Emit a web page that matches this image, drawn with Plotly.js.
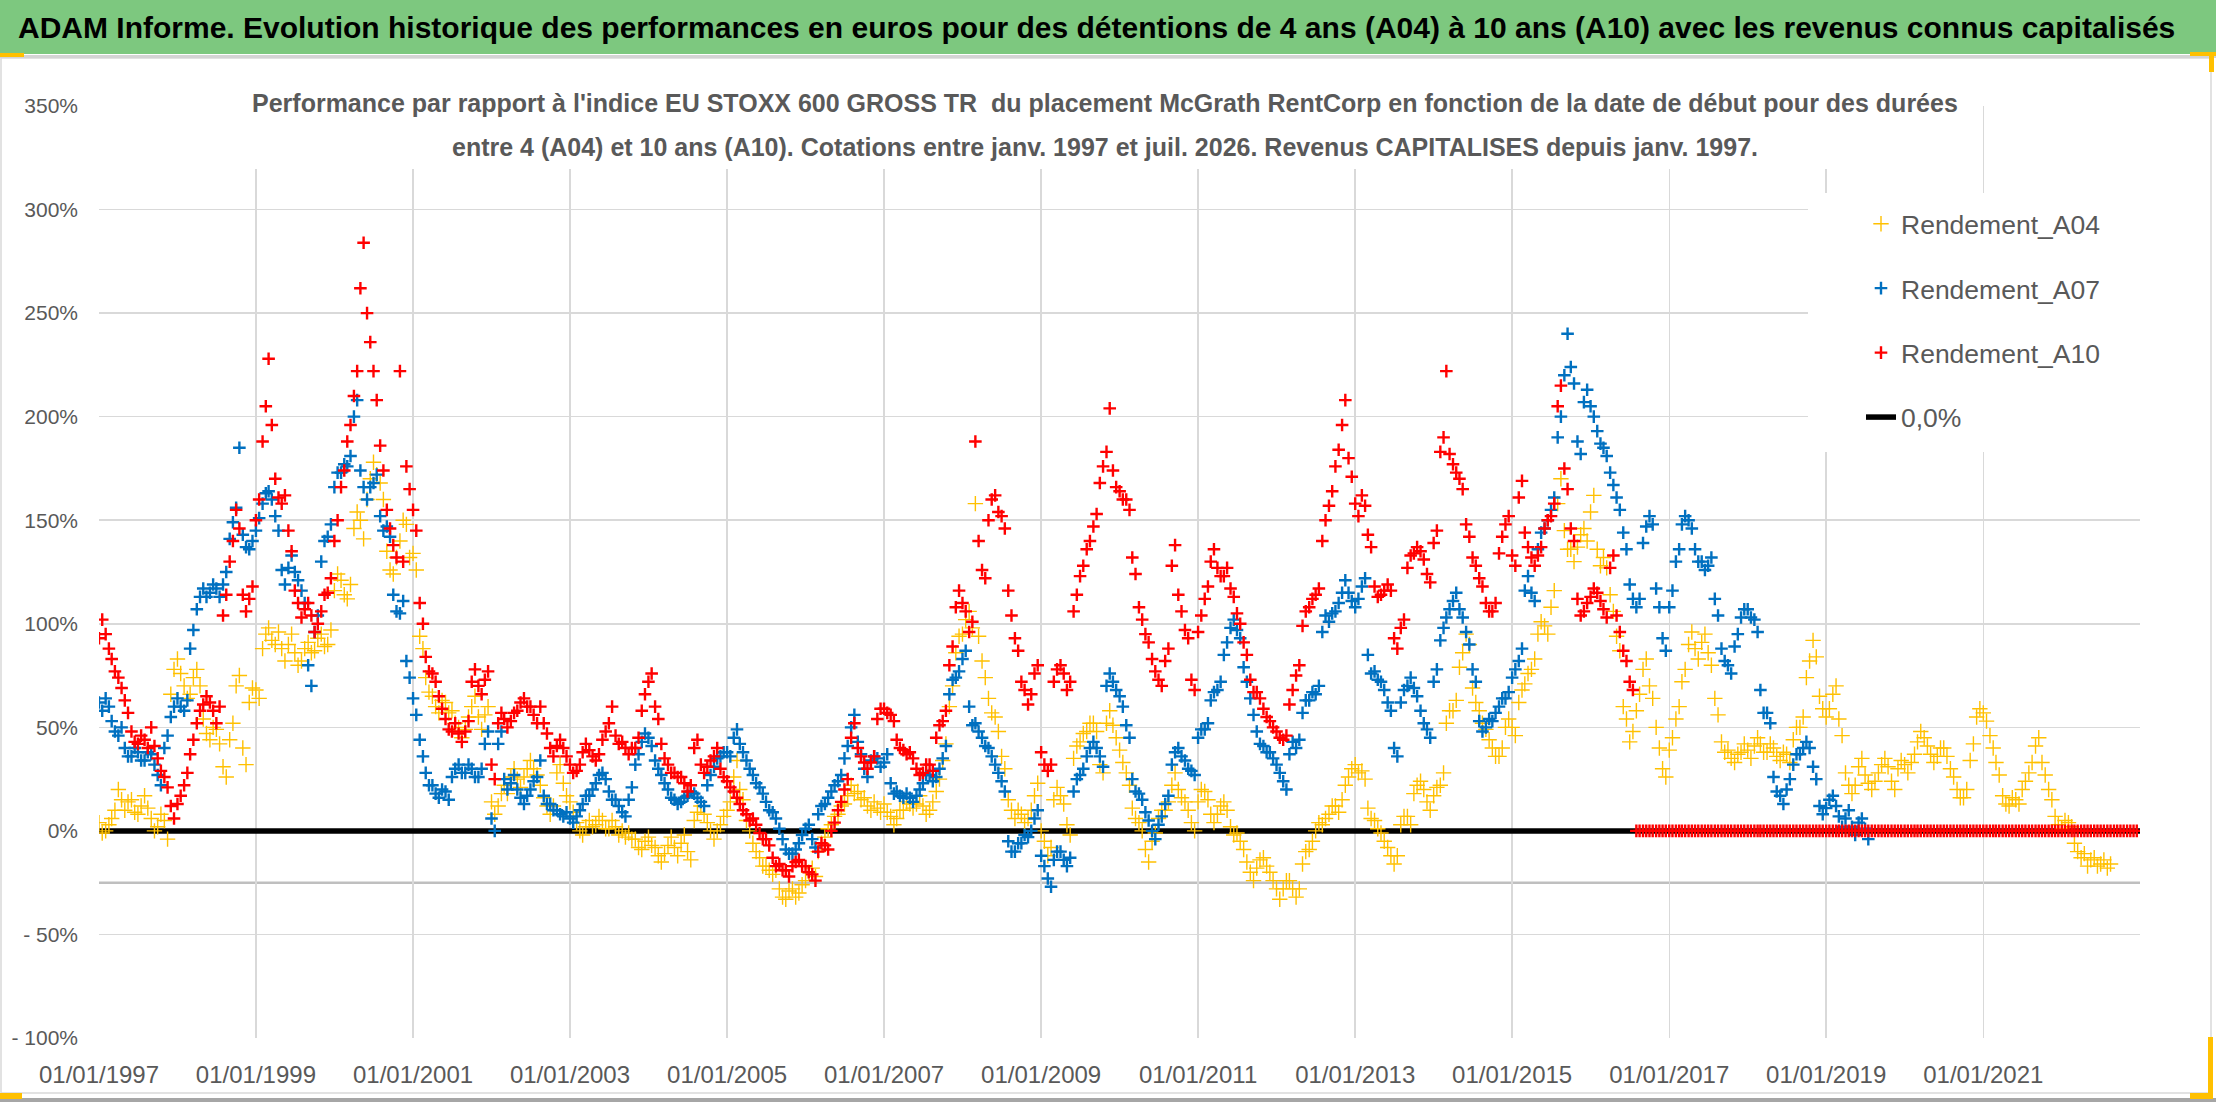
<!DOCTYPE html>
<html>
<head>
<meta charset="utf-8">
<script src="https://cdn.plot.ly/plotly-3.0.1.min.js"></script>
<style>
  html, body { margin: 0; padding: 0; background: #fff; }
  #chart { width: 2216px; height: 1102px; }
</style>
</head>
<body>
<div id="chart"></div>
<script>
// Two readings per month (1st and 16th), starting January 1997, in percent
const a04 = [
  4,-1, 0,3, 6,10, 20,15, 10,14, 15,9, 8,12, 17,11, 6,0, 2,8, 5,-4, 66,78,
  83,76, 70,64, 66,74, 78,70, 54,47, 44,50, 49,42, 31,26, 44,52, 70,75, 40,32, 62,69,
  68,64, 88,95, 98,92, 90,96, 88,82, 90,95, 86,80, 82,88, 91,86, 87,93, 95,89, 90,97,
  116,124, 121,114, 112,119, 146,154, 150,141, 160,170, 178,172, 168,160, 135,126, 124,132, 140,150, 148,132,
  134,126, 94,88, 74,67, 65,60, 57,63, 62,57, 58,52, 50,45, 49,55, 60,65, 55,49, 56,60,
  14,8, 12,18, 22,18, 26,30, 25,21, 26,30, 34,30, 27,22, 16,12, 8,12, 28,32, 23,17,
  14,9, 4,0, -2,2, 5,2, 3,7, 5,1, 1,5, 2,-2, 0,-3, -1,-4, -4,-8, -9,-5,
  -3,-7, -8,-12, -15,-11, -7,-3, -8,-12, -6,-2, -10,-14, 5,9, 12,8, 4,0, -4,0, 3,7,
  10,14, 26,34, 20,15, 5,0, -6,-10, -13,-17, -17,-19, -21,-19, -28,-32, -33,-29, -28,-32, -30,-26,
  -24,-20, -18,-22, -10,-6, -3,1, 3,7, 8,12, 13,17, 22,18, 19,15, 16,12, 10,14, 11,9,
  13,9, 7,3, 6,10, 10,14, 13,11, 13,17, 12,8, 10,14, 19,25, 34,42, 60,70, 86,94,
  95,102, 106,98, 158,94, 82,74, 64,57, 55,48, 36,30, 15,10, 6,10, 8,4, 6,10, 17,23,
  0,-5, -12,-8, 15,21, 17,13, 3,-2, 35,41, 43,47, 48,52, 52,48, 32,28, 52,58, 51,45,
  39,33, 28,22, 11,6, 4,0, -9,-15, -5,-1, 6,10, 10,14, 22,28, 20,16, 14,10, 4,0,
  14,20, 19,15, 8,4, 8,12, 14,10, 2,-2, -1,-5, -9,-15, -20,-24, -18,-14, -13,-17, -20,-24,
  -28,-33, -28,-24, -24,-28, -32,-28, -16,-10, -9,-5, 0,4, 3,6, 8,12, 12,9, 15,22, 26,30,
  32,28, 29,25, 11,6, 5,1, -1,-5, -8,-12, -16,-12, 3,7, 7,3, 18,22, 24,20, 14,10,
  17,21, 22,28, 52,58, 58,63, 79,86, 95,90, 69,62, 58,52, 49,44, 40,36, 36,40, 50,54,
  50,46, 62,68, 71,76, 78,83, 95,101, 99,95, 108,116, 158,170, 145,136, 136,130, 137,143, 146,140,
  154,162, 136,128, 132,127, 114,106, 94,87, 60,54, 43,48, 58,66, 78,83, 70,64, 50,40, 30,26,
  39,45, 54,60, 72,78, 90,96, 88,83, 91,95, 86,80, 64,56, 43,38, 39,35, 33,37, 38,42,
  39,35, 41,45, 42,38, 38,42, 40,36, 34,38, 37,33, 44,50, 50,55, 74,82, 92,84, 65,59,
  55,59, 66,70, 54,46, 28,22, 18,22, 31,35, 27,23, 20,24, 28,32, 35,31, 24,20, 30,34,
  32,28, 33,37, 43,48, 45,41, 37,33, 36,40, 40,36, 30,26, 20,16, 16,20, 34,42, 55,59,
  57,53, 46,40, 33,27, 17,13, 12,16, 15,13, 20,24, 28,33, 41,45, 33,27, 20,15, 7,3,
  1,5, 4,2, -6,-10, -13,-11, -17,-14, -13,-17, -16,-14, -18,-16
];

const a07 = [
  62,58, 64,60, 53,48, 46,50, 40,36, 36,40, 38,34, 34,38, 37,32, 27,22, 40,46, 55,60,
  64,60, 58,63, 88,97, 107,113, 117,113, 115,119, 117,113, 119,125, 141,149, 156,185, 143,137, 136,140,
  145,151, 158,163, 164,160, 152,145, 126,119, 127,133, 125,121, 116,110, 80,70, 96,104, 130,140, 142,148,
  166,173, 173,177, 176,181, 200,208, 174,166, 160,166, 168,172, 152,145, 147,142, 114,106, 105,111, 82,74,
  64,56, 44,36, 28,22, 22,18, 16,20, 19,15, 26,30, 32,28, 28,32, 30,26, 26,30, 42,48,
  6,0, 42,48, 25,20, 23,27, 20,16, 13,17, 20,24, 26,34, 17,13, 13,10, 10,8, 7,9,
  6,4, 7,10, 13,17, 17,20, 23,27, 28,25, 19,15, 15,12, 9,7, 15,21, 32,37, 43,47,
  45,41, 34,30, 27,23, 20,16, 15,13, 14,16, 17,19, 18,16, 14,12, 22,27, 31,35, 36,38,
  38,36, 45,49, 42,38, 34,30, 27,23, 21,18, 14,10, 9,6, 1,-4, -9,-11, -11,-9, -6,-2,
  1,3, -4,-8, 8,12, 13,16, 19,22, 24,27, 35,41, 50,56, 43,37, 30,26, 34,36, 35,31,
  33,37, 23,18, 19,17, 16,18, 16,14, 17,20, 23,27, 27,24, 26,30, 35,41, 66,73, 74,77,
  83,87, 60,51, 52,48, 45,41, 40,36, 32,28, 24,19, -5,-10, -10,-6, -6,-2, -3,0, 6,10,
  -12,-17, -23,-27, -14,-10, -10,-14, -17,-13, 19,25, 27,30, 36,40, 43,40, 36,31, 70,76, 72,68,
  65,60, 51,45, 25,19, 18,15, 9,5, 0,-4, 3,7, 13,17, 32,38, 40,36, 34,30, 29,27,
  45,49, 49,52, 63,67, 68,72, 85,91, 98,102, 97,93, 79,72, 64,56, 48,42, 41,38, 38,35,
  32,28, 24,20, 37,43, 40,44, 57,63, 63,67, 66,70, 96,104, 101,105, 106,110, 115,121, 115,111,
  108,112, 118,122, 85,76, 77,73, 72,68, 62,58, 40,36, 62,68, 70,74, 69,65, 58,52, 49,45,
  72,78, 92,98, 103,107, 111,115, 107,103, 96,90, 78,72, 53,48, 50,54, 53,57, 60,64, 64,67,
  74,78, 82,88, 116,123, 115,111, 136,144, 146,150, 155,161, 190,200, 220,240, 224,216, 188,182, 207,213,
  205,200, 193,187, 185,181, 173,167, 161,155, 144,136, 119,112, 108,112, 139,147, 152,148, 117,108, 93,87,
  108,116, 130,136, 148,152, 150,146, 136,130, 130,126, 128,132, 112,104, 88,82, 80,76, 89,95, 103,107,
  107,103, 102,96, 68,57, 57,52, 26,19, 17,13, 20,25, 32,37, 37,40, 43,40, 31,25, 12,8,
  11,15, 17,12, 7,2, 6,10, 2,-2, 4,6, 1,-4
];

const a10 = [
  93,102, 95,88, 83,77, 74,69, 63,57, 48,43, 42,46, 44,40, 50,41, 35,29, 26,21, 12,6,
  13,17, 22,28, 37,44, 52,58, 61,65, 62,58, 52,60, 104,114, 130,140, 155,146, 114,106, 112,118,
  150,160, 188,205, 228,196, 170,161, 158,162, 145,135, 116,110, 103,107, 110,104, 96,100, 106,114, 115,122,
  140,150, 166,174, 188,196, 210,222, 262,284, 250,236, 222,208, 186,174, 155,146, 138,132, 222,130, 176,165,
  155,145, 110,100, 84,77, 76,72, 65,59, 54,49, 48,52, 47,43, 48,53, 72,78, 70,66, 73,77,
  32,25, 52,57, 54,50, 53,57, 58,62, 64,60, 60,56, 52,60, 52,47, 40,36, 41,44, 40,36,
  32,28, 29,32, 38,42, 39,36, 34,37, 44,48, 52,60, 46,42, 43,40, 37,40, 40,45, 58,66,
  72,76, 60,54, 42,35, 32,28, 28,26, 26,23, 19,22, 40,44, 32,28, 31,34, 36,40, 30,26,
  24,21, 19,16, 13,10, 8,5, 6,3, -1,-4, -4,-7, -13,-17, -16,-19, -19,-22, -17,-15, -14,-17,
  -17,-20, -21,-24, -10,-6, -7,-9, 0,4, 10,14, 20,25, 45,52, 40,36, 33,30, 33,36, 54,59,
  59,57, 56,53, 44,40, 39,37, 38,35, 30,27, 28,32, 32,29, 45,51, 53,58, 80,89, 108,116,
  110,106, 96,101, 188,140, 126,122, 150,160, 162,154, 152,146, 116,104, 93,87, 72,68, 61,66, 76,80,
  38,32, 29,32, 72,78, 80,76, 68,72, 106,114, 123,128, 136,140, 147,153, 168,176, 183,204, 174,166,
  164,160, 160,155, 132,124, 108,102, 95,91, 83,77, 73,70, 82,88, 128,138, 114,106, 97,93, 73,68,
  96,104, 112,118, 130,136, 127,123, 123,127, 117,113, 105,100, 91,85, 73,67, 67,64, 59,55, 53,50,
  48,45, 44,46, 61,68, 75,80, 99,106, 108,112, 114,117, 140,150, 157,164, 176,184, 196,208, 180,171,
  158,152, 162,157, 143,137, 118,113, 114,116, 119,116, 93,88, 98,102, 127,133, 134,137, 135,131, 124,120,
  139,145, 183,190, 222,182, 177,173, 170,165, 148,142, 132,128, 122,118, 110,106, 106,110, 134,142, 148,152,
  133,128, 161,169, 144,137, 132,128, 133,137, 146,150, 152,158, 205,215, 175,165, 146,140, 112,104, 106,110,
  113,117, 115,111, 107,103, 127,133, 104,96, 87,82, 72,68,
  // no ten-year result yet: plotted at zero
  0,0, 0,0, 0,0, 0,0, 0,0,
  0,0, 0,0, 0,0, 0,0, 0,0, 0,0, 0,0, 0,0, 0,0, 0,0, 0,0, 0,0,
  0,0, 0,0, 0,0, 0,0, 0,0, 0,0, 0,0, 0,0, 0,0, 0,0, 0,0, 0,0,
  0,0, 0,0, 0,0, 0,0, 0,0, 0,0, 0,0, 0,0, 0,0, 0,0, 0,0, 0,0,
  0,0, 0,0, 0,0, 0,0, 0,0, 0,0, 0,0, 0,0, 0,0, 0,0, 0,0, 0,0,
  0,0, 0,0, 0,0, 0,0, 0,0, 0,0, 0,0, 0,0, 0,0, 0,0, 0,0, 0,0,
  0,0, 0,0, 0,0, 0,0, 0,0, 0,0, 0,0, 0,0, 0,0, 0,0, 0,0, 0,0
];

// Reference line at 0%
const zeroX = ['1997-01-01', '2023-01-01'];
const zeroY = [0, 0];

// Y axis ticks
const yTicks = [-100, -50, 0, 50, 100, 150, 200, 250, 300, 350];
const yLabels = ['- 100%', '- 50%', '0%', '50%', '100%', '150%', '200%', '250%', '300%', '350%'];

const titleText = 'ADAM Informe. Evolution historique des performances en euros pour des détentions de 4 ans (A04) à 10 ans (A10) avec les revenus connus capitalisés';
const subLine1 = "Performance par rapport à l'indice EU STOXX 600 GROSS TR &nbsp;du placement McGrath RentCorp en fonction de la date de début pour des durées";
const subLine2 = 'entre 4 (A04) et 10 ans (A10). Cotations entre janv. 1997 et juil. 2026. Revenus CAPITALISES depuis janv. 1997.';

// Dates for two readings per month from January 1997
function halfMonthDates(count) {
    const out = [];
    for (let m = 0; m < count; m++) {
        const yr = 1997 + Math.floor(m / 12);
        const mo = String(m % 12 + 1).padStart(2, '0');
        out.push(yr + '-' + mo + '-01', yr + '-' + mo + '-16');
    }
    return out;
}

// Plot area in pixels, used to place paper shapes
const L = 99, R = 2140, T = 106, B = 1038;
function px(x) { return (x - L) / (R - L); }
function py(y) { return (B - y) / (B - T); }

function rect(x0, y0, x1, y1, fill, layer) {
    return {type: 'rect', xref: 'paper', yref: 'paper',
        x0: px(x0), x1: px(x1), y0: py(y0), y1: py(y1),
        fillcolor: fill, line: {width: 0}, layer: layer || 'above'};
}

const FONT = 'Liberation Sans, Arial, sans-serif';
const GREY = '#595959';

const traces = [
    {
        x: zeroX, y: zeroY, mode: 'lines', name: '0,0%',
        line: {color: '#000000', width: 5.5},
        legendrank: 4, legendgroup: 'd'
    },
    {
        x: halfMonthDates(a04.length / 2), y: a04, mode: 'markers', name: 'Rendement_A04',
        marker: {symbol: 'cross-thin', size: 11, color: '#ffc000', line: {color: '#ffc000', width: 1.4}},
        legendrank: 1, legendgroup: 'a'
    },
    {
        x: halfMonthDates(a07.length / 2), y: a07, mode: 'markers', name: 'Rendement_A07',
        marker: {symbol: 'cross-thin', size: 9, color: '#0070c0', line: {color: '#0070c0', width: 2.4}},
        legendrank: 2, legendgroup: 'b'
    },
    {
        x: halfMonthDates(a10.length / 2), y: a10, mode: 'markers', name: 'Rendement_A10',
        marker: {symbol: 'cross-thin', size: 9, color: '#ff0000', line: {color: '#ff0000', width: 2.4}},
        legendrank: 3, legendgroup: 'c'
    }
];

const shapes = [
    // chart frame
    {type: 'rect', xref: 'paper', yref: 'paper', x0: px(1), x1: px(2211), y0: py(58), y1: py(1093),
        line: {color: '#d9d9d9', width: 1.5}, layer: 'below'},
    rect(0, 1098, 2216, 1102, '#a6a6a6'),
    // title band
    rect(0, 0, 2216, 54, '#7dc87f'),
    rect(0, 55, 2216, 58, '#d4d4d4'),
    // horizontal axis line at -25%
    {type: 'line', xref: 'paper', yref: 'y', x0: 0, x1: 1, y0: -25, y1: -25,
        line: {color: '#bfbfbf', width: 2.5}, layer: 'between'},
    // chart title and legend boxes hide the grid behind them
    rect(255, 84, 1955, 169, '#ffffff'),
    rect(1808, 193, 2146, 452, '#ffffff'),
    // selection handles
    rect(0, 53, 24, 57, '#ffc000'),
    rect(2190, 52, 2216, 56, '#ffc000'),
    rect(2209, 52, 2214, 72, '#ffc000'),
    rect(0, 1093, 22, 1099, '#ffc000'),
    rect(2190, 1093, 2213, 1099, '#ffc000'),
    rect(2208, 1037, 2213, 1099, '#ffc000')
];

const annotations = [
    {text: '<b>' + titleText + '</b>', xref: 'paper', yref: 'paper', x: px(16), y: py(28),
        xanchor: 'left', yanchor: 'middle', showarrow: false,
        font: {family: FONT, size: 30, color: '#000000'}},
    {text: '<b>' + subLine1 + '</b>', xref: 'paper', yref: 'paper', x: px(1105), y: py(103),
        xanchor: 'center', yanchor: 'middle', showarrow: false,
        font: {family: FONT, size: 25, color: GREY}},
    {text: '<b>' + subLine2 + '</b>', xref: 'paper', yref: 'paper', x: px(1105), y: py(147),
        xanchor: 'center', yanchor: 'middle', showarrow: false,
        font: {family: FONT, size: 25, color: GREY}}
];

const layout = {
    width: 2216, height: 1102,
    margin: {l: L, r: 2216 - R, t: T, b: 1102 - B},
    paper_bgcolor: '#ffffff', plot_bgcolor: '#ffffff',
    font: {family: FONT, color: GREY},
    xaxis: {
        type: 'date', range: ['1997-01-01', '2022-12-31'],
        tick0: '1997-01-01', dtick: 'M24', tickformat: '%d/%m/%Y',
        showgrid: true, gridcolor: '#d9d9d9', gridwidth: 1.5,
        zeroline: false, showline: false, ticks: '',
        ticklabelstandoff: 20, automargin: false,
        tickfont: {family: FONT, size: 24, color: GREY}
    },
    yaxis: {
        range: [-100, 350], tickvals: yTicks, ticktext: yLabels,
        showgrid: true, gridcolor: '#d9d9d9', gridwidth: 1.5,
        zeroline: false, showline: false, ticks: '',
        ticklabelstandoff: 20, automargin: false,
        tickfont: {family: FONT, size: 21, color: GREY}
    },
    showlegend: true,
    legend: {
        x: px(1861), y: py(200), xanchor: 'left', yanchor: 'top',
        bgcolor: 'rgba(0,0,0,0)', borderwidth: 0,
        font: {family: FONT, size: 26.5, color: GREY},
        tracegroupgap: 27, traceorder: 'grouped'
    },
    shapes: shapes,
    annotations: annotations
};

Plotly.newPlot('chart', traces, layout, {displayModeBar: false, staticPlot: true});
</script>
</body>
</html>
